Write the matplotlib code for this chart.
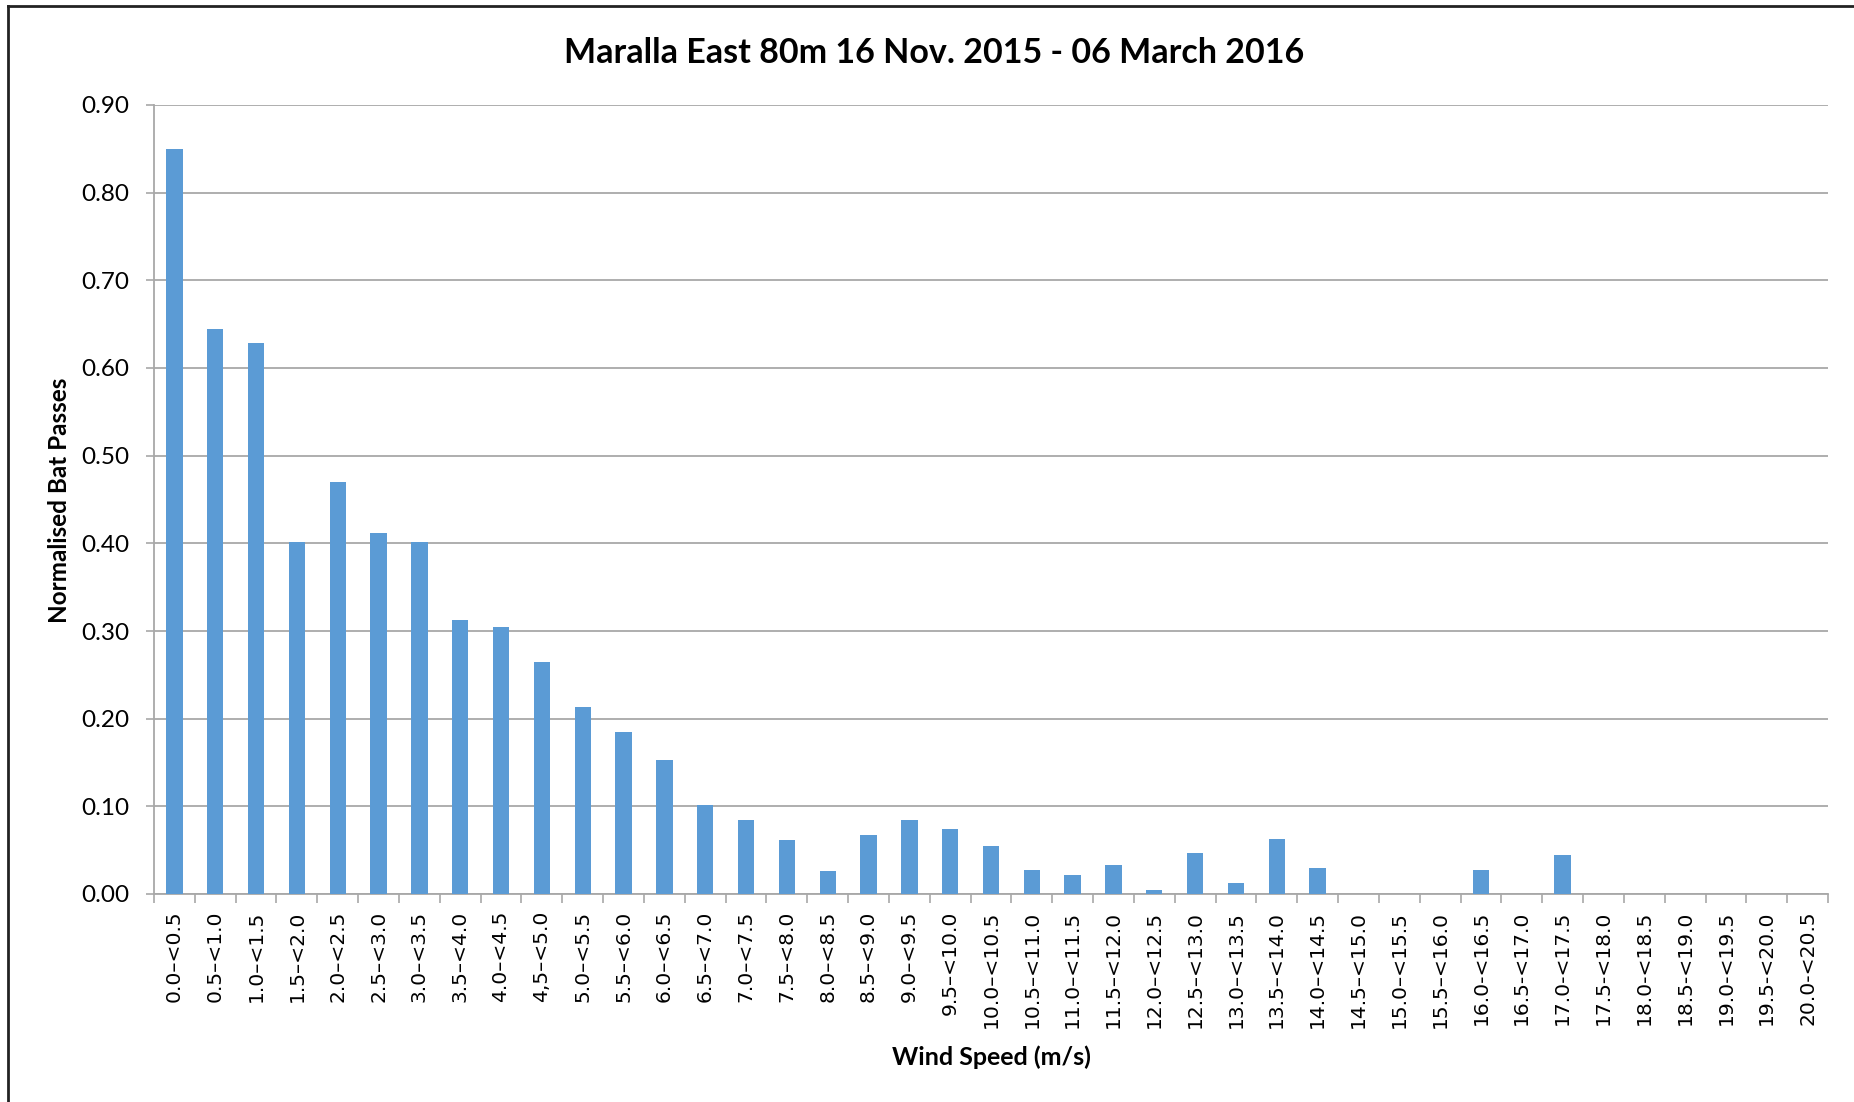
import matplotlib
matplotlib.use("Agg")
import matplotlib.pyplot as plt
from matplotlib.lines import Line2D

# Wind-speed bins (m/s) and normalised bat passes per bin
bin_labels = [
    "0.0–<0.5", "0.5–<1.0", "1.0–<1.5", "1.5–<2.0", "2.0–<2.5", "2.5–<3.0",
    "3.0–<3.5", "3.5–<4.0", "4.0–<4.5", "4,5–<5.0", "5.0–<5.5", "5.5–<6.0",
    "6.0–<6.5", "6.5–<7.0", "7.0–<7.5", "7.5–<8.0", "8.0–<8.5", "8.5–<9.0",
    "9.0–<9.5", "9.5–<10.0", "10.0–<10.5", "10.5–<11.0", "11.0–<11.5",
    "11.5–<12.0", "12.0–<12.5", "12.5–<13.0", "13.0–<13.5", "13.5–<14.0",
    "14.0–<14.5", "14.5–<15.0", "15.0–<15.5", "15.5–<16.0", "16.0-<16.5",
    "16.5-<17.0", "17.0-<17.5", "17.5-<18.0", "18.0-<18.5", "18.5-<19.0",
    "19.0-<19.5", "19.5-<20.0", "20.0-<20.5",
]
bat_passes = [
    0.850, 0.645, 0.629, 0.402, 0.470, 0.412, 0.401, 0.313, 0.304, 0.265,
    0.213, 0.185, 0.153, 0.102, 0.084, 0.062, 0.026, 0.067, 0.084, 0.074,
    0.055, 0.027, 0.022, 0.033, 0.004, 0.047, 0.012, 0.063, 0.030, 0.0,
    0.0, 0.0, 0.027, 0.0, 0.044, 0.0, 0.0, 0.0, 0.0, 0.0, 0.0,
]
y_ticks = [0.0, 0.1, 0.2, 0.3, 0.4, 0.5, 0.6, 0.7, 0.8, 0.9]

title = "Maralla East 80m 16 Nov. 2015 - 06 March 2016"
x_title = "Wind Speed (m/s)"
y_title = "Normalised Bat Passes"

BAR = "#5B9BD5"
GRID = "#A8A8A8"
LABEL_FONT = ["Lato", "DejaVu Sans"]

W, H = 1854, 1102
fig = plt.figure(figsize=(W / 100, H / 100), dpi=100)
fig.patch.set_facecolor("white")

ax = fig.add_axes([154 / W, 1 - 894 / H, (1828 - 154) / W, (894 - 105) / H])

x = list(range(len(bin_labels)))
ax.bar(x, bat_passes, width=0.4, color=BAR, zorder=3)

ax.set_xlim(-0.5, len(bin_labels) - 0.5)
ax.set_ylim(0, 0.9)

# horizontal gridlines
ax.set_yticks(y_ticks)
ax.set_yticklabels([f"{v:.2f}" for v in y_ticks], family=LABEL_FONT,
                   fontsize=17.5)
ax.yaxis.grid(True, color=GRID, linewidth=1.3, zorder=0)
ax.set_axisbelow(True)

# category ticks sit on the bin boundaries, labels in the middle
ax.set_xticks([i - 0.5 for i in range(len(bin_labels) + 1)])
ax.set_xticklabels([])
ax.set_xticks(x, minor=True)
ax.set_xticklabels(bin_labels, minor=True, rotation=90, fontsize=14.6,
                   family="DejaVu Sans")
ax.tick_params(axis="x", which="major", length=6.5, width=1.2, color=GRID,
               direction="out")
ax.tick_params(axis="x", which="minor", length=0, pad=12)
ax.tick_params(axis="y", length=6, width=1.2, color=GRID, pad=12)

for side in ("top", "right"):
    ax.spines[side].set_visible(False)
for side in ("left", "bottom"):
    ax.spines[side].set_color(GRID)
    ax.spines[side].set_linewidth(1.3)

fig.text(934 / W, 1 - 53 / H, title, ha="center", va="center",
         fontsize=24.5, fontweight="bold", family=LABEL_FONT)
fig.text(991 / W, 1 - 1057 / H, x_title, ha="center", va="center",
         fontsize=18, fontweight="bold", family=LABEL_FONT)
fig.text(60 / W, 1 - 500 / H, y_title, ha="center", va="center",
         rotation=90, fontsize=17.5, fontweight="bold", family=LABEL_FONT)

# frame lines along the top and left edges
fig.add_artist(Line2D([8 / W, 8 / W], [0, 1 - 6 / H], color="#222222",
                      linewidth=2, transform=fig.transFigure))
fig.add_artist(Line2D([8 / W, 1], [1 - 6 / H, 1 - 6 / H], color="#222222",
                      linewidth=2, transform=fig.transFigure))

fig.savefig("out.png", dpi=100, facecolor="white")
